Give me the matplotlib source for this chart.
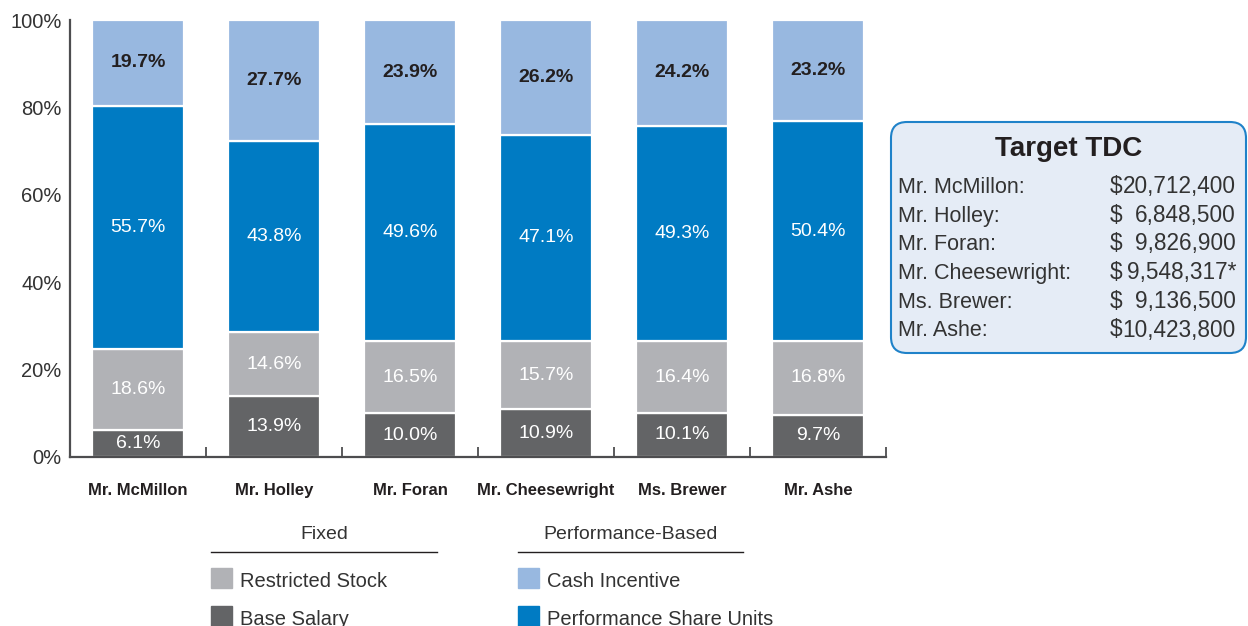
import numpy as np
import matplotlib.pyplot as plt
from matplotlib.patches import Rectangle, FancyBboxPatch
from matplotlib.lines import Line2D
import matplotlib.transforms as mtransforms

plt.rcParams['font.family'] = ['Liberation Sans', 'DejaVu Sans']

# Quote di compensazione (%), dal basso verso l'alto
names = ["Mr. McMillon", "Mr. Holley", "Mr. Foran", "Mr. Cheesewright", "Ms. Brewer", "Mr. Ashe"]
base_salary = [6.1, 13.9, 10.0, 10.9, 10.1, 9.7]
restricted_stock = [18.6, 14.6, 16.5, 15.7, 16.4, 16.8]
psu = [55.7, 43.8, 49.6, 47.1, 49.3, 50.4]
cash_incentive = [19.7, 27.7, 23.9, 26.2, 24.2, 23.2]

# Target TDC ($)
tdc_names = ["Mr. McMillon:", "Mr. Holley:", "Mr. Foran:", "Mr. Cheesewright:", "Ms. Brewer:", "Mr. Ashe:"]
tdc_values = [20712400, 6848500, 9826900, 9548317, 9136500, 10423800]
tdc_notes = ["", "", "", "*", "", ""]

yticks = [0, 20, 40, 60, 80, 100]

c_base = "#636466"
c_rs = "#b1b2b6"
c_psu = "#007bc3"
c_cash = "#98b8e0"
c_text = "#231f20"
c_axis = "#4d4d4f"

W, H = 1248, 626
fig = plt.figure(figsize=(W / 100, H / 100), dpi=100)


def fx(x):
    return x / W


def fy(y):
    return 1 - y / H


# asse del grafico in pixel: x 70..886, y 20..457
ax = fig.add_axes([fx(70), fy(457), fx(886) - fx(70), fy(20) - fy(457)])

x = np.arange(len(names))
series = [
    (base_salary, c_base, "white", "normal"),
    (restricted_stock, c_rs, "white", "normal"),
    (psu, c_psu, "white", "normal"),
    (cash_incentive, c_cash, c_text, "bold"),
]

bottom = np.zeros(len(names))
for vals, col, tcol, tw in series:
    vals = np.array(vals)
    ax.bar(x, vals, bottom=bottom, width=0.68, color=col,
           edgecolor="white", linewidth=1.6, zorder=1)
    for xi, b, v in zip(x, bottom, vals):
        ax.text(xi, b + v / 2, f"{v:.1f}%", ha="center", va="center",
                fontsize=14, color=tcol, fontweight=tw, zorder=3)
    bottom += vals

ax.set_xlim(-0.5, len(names) - 0.5)
ax.set_ylim(0, 100)

ax.spines["top"].set_visible(False)
ax.spines["right"].set_visible(False)
for s in ("left", "bottom"):
    ax.spines[s].set_color(c_axis)
    ax.spines[s].set_linewidth(1.6)
    ax.spines[s].set_zorder(4)

ax.set_yticks(yticks)
ax.set_yticklabels([f"{t}%" for t in yticks])
ax.tick_params(axis="y", length=0, pad=6, labelsize=14.5, labelcolor="#333333")

# tacche tra le barre, verso l'interno
ax.set_xticks(np.arange(0.5, len(names), 1.0))
ax.set_xticklabels([])
ax.tick_params(axis="x", direction="in", length=7.2, width=1.3, color=c_axis)

trans = mtransforms.blended_transform_factory(ax.transData, ax.transAxes)
for xi, n in zip(x, names):
    ax.text(xi, -38 / 437, n, transform=trans, ha="center", va="baseline",
            fontsize=12, fontweight="bold", color=c_text)

# legenda raggruppata
legend_groups = [
    ("Fixed", 211, 437, [("Restricted Stock", c_rs), ("Base Salary", c_base)]),
    ("Performance-Based", 518, 743, [("Cash Incentive", c_cash), ("Performance Share Units", c_psu)]),
]
for title, x0, x1, items in legend_groups:
    fig.text(fx((x0 + x1) / 2), fy(539), title, ha="center", va="baseline",
             fontsize=14, color="#333333")
    fig.add_artist(Line2D([fx(x0), fx(x1)], [fy(552), fy(552)],
                          color="#231f20", linewidth=1.0))
    for i, (lab, col) in enumerate(items):
        ytop = 568 + i * 38
        fig.add_artist(Rectangle((fx(x0), fy(ytop + 20)), fx(21), 20 / H,
                                 transform=fig.transFigure, color=col))
        fig.text(fx(x0 + 29), fy(ytop + 19), lab, ha="left", va="baseline",
                 fontsize=14.5, color="#333333")

# riquadro Target TDC
box = FancyBboxPatch((8.91, (H - 353) / 100), 3.55, 2.31,
                     boxstyle="round,pad=0,rounding_size=0.16",
                     transform=fig.dpi_scale_trans, facecolor="#e5ecf6",
                     edgecolor="#1f82c9", linewidth=1.5, clip_on=False)
fig.add_artist(box)
fig.text(fx(1069), fy(156), "Target TDC", ha="center", va="baseline",
         fontsize=20, fontweight="bold", color=c_text)
for i, (n, v, note) in enumerate(zip(tdc_names, tdc_values, tdc_notes)):
    yb = 193 + i * 28.7
    fig.text(fx(898), fy(yb), n, ha="left", va="baseline", fontsize=15.5, color="#333333")
    fig.text(fx(1110), fy(yb), "$", ha="left", va="baseline", fontsize=16.3, color="#333333")
    fig.text(fx(1236), fy(yb), f"{v:,}{note}", ha="right", va="baseline",
             fontsize=16.3, color="#333333")

fig.savefig("out.png", dpi=100)
